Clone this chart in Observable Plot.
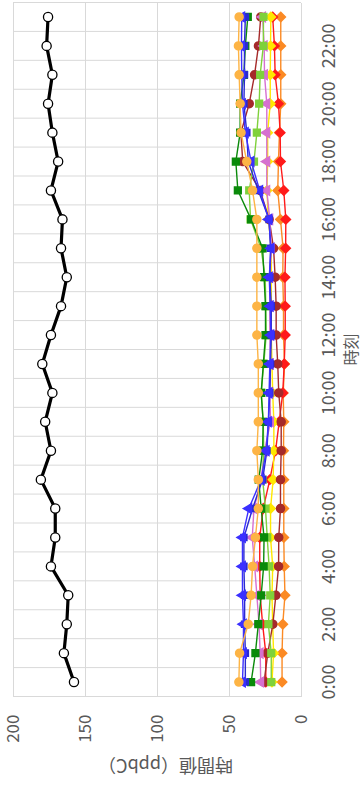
<!DOCTYPE html>
<html><head><meta charset="utf-8">
<script src="https://cdn.jsdelivr.net/npm/d3@7"></script>
<script src="https://cdn.jsdelivr.net/npm/@observablehq/plot@0.6"></script>
<style>
html,body{margin:0;padding:0;background:#fff;}
#wrap{position:relative;width:364px;height:786px;overflow:hidden;background:#fff;}
#rot{position:absolute;left:0;top:786px;width:786px;height:364px;transform-origin:0 0;transform:rotate(-90deg);}
</style></head><body>
<div id="wrap"><div id="rot"></div></div>
<script>
const hours = [0,1,2,3,4,5,6,7,8,9,10,11,12,13,14,15,16,17,18,19,20,21,22,23];
const hourTicks = [0,2,4,6,8,10,12,14,16,18,20,22];
const tickLabels = ["0:00","2:00","4:00","6:00","8:00","10:00","12:00","14:00","16:00","18:00","20:00","22:00"];
const valueTicks = [0,50,100,150,200];
const xTitle = "時刻";
const yTitle = "時間値（ppbC）";

const totalSeries = [158,165,163,162,174,171,171,181,174,178,173,180,174,167,163,167,166,174,169,173,176,173,177,176];
const lightOrange = [43.5,43,37,35,34,32,30,30,31,30,30,30,31,31,31,31,31,34,38,42,42.6,43.3,43.8,43.3];
const blueTri = [41,40.3,40.3,41,41,41,36.6,28,24.5,23,22.5,22,21.3,21.7,22.4,21.2,22.7,29,35,39,41,41.5,41.7,41.5];
const blueSq = [39,39,39.5,39.5,40,40,34,27,24,23,22,21.5,21,21,22,21.5,22.5,30,37,38,40,39.6,39.6,39];
const darkGreen = [35,32,30,28,26.3,26,28,29.7,27,26.6,28,26.5,25,25,26,27,35,44.2,45.6,42.6,42.6,40,39,37.3];
const lightGreen = [21,21,23,21.7,22.5,23.8,25,27,26.2,26.6,28,26.2,24.5,24.8,25.2,28.1,35.4,36.3,33,31,29.4,28.7,26.5,26.4];
const orchid = [28.3,28.7,29.5,31,32.5,34.2,33,28,25.7,21.5,22,21.5,22,22,22,21,22,24.1,24.1,24.1,24.1,25.7,25.9,27];
const yellow = [20.5,19.4,20,20.5,20,21.5,21.5,19.7,19.2,19.2,20,20.5,21,21,21,21,23,24,23.5,23.5,21.7,21.7,21.5,21.3];
const red = [24.8,24.8,27,28.7,29,29,26.6,22,18,15.5,13,12,11.3,11.3,11.5,11,10.9,12.3,14.6,14.8,16,18.3,18.8,20];
const darkOrange = [13.5,13.5,13,11.5,12,12.3,12.3,12.3,12.5,12.3,12.7,11.8,12.5,12.5,13,12.8,14.6,16.5,16,15.3,14.4,14.4,14.4,14.4];
const brown = [26,23.4,19.9,17.8,15.9,15.8,14.6,14.6,14.1,14.1,15.8,16.5,17.6,17.6,18.3,19.4,22.4,28.7,40.8,42.1,36.3,32.6,29.9,28.3];

const seriesDefs = [
  {values: darkOrange, color: "#fb8a24", symbol: "diamond2", r: 4.2},
  {values: red, color: "#ff1a1a", symbol: "diamond2", r: 4.2},
  {values: yellow, color: "#ffe800", symbol: "diamond2", r: 4.2},
  {values: brown, color: "#a52a2a", symbol: "circle", r: 4},
  {values: orchid, color: "#d670d0", symbol: "triangle", r: 3.5},
  {values: lightGreen, color: "#7fd13b", symbol: "square", r: 3.8},
  {values: darkGreen, color: "#0a8a0a", symbol: "square", r: 3.8},
  {values: blueSq, color: "#2a2ad0", symbol: "square", r: 3.4},
  {values: blueTri, color: "#3b30ff", symbol: "triangle", r: 3.5},
  {values: lightOrange, color: "#fdb445", symbol: "circle", r: 4}
];

const toRows = vals => hours.map((h, i) => ({hour: h, value: vals[i]}));
const boundaries = hours.map(h => h - 0.5).concat([hours[hours.length - 1] + 0.5]);

const marks = [
  Plot.ruleY(valueTicks, {stroke: "#d9d9d9", strokeWidth: 1}),
  Plot.ruleX(boundaries, {stroke: "#d9d9d9", strokeWidth: 1}),
  Plot.axisX(hourTicks, {tickSize: 0, tickPadding: 21, fontSize: 18, label: null, fill: "#595959",
    tickFormat: d => tickLabels[hourTicks.indexOf(d)]}),
  Plot.axisY(valueTicks, {tickSize: 0, tickPadding: 18, fontSize: 17, label: null, fill: "#595959"}),
  Plot.text([xTitle], {frameAnchor: "bottom", dy: 50, fontSize: 16, fill: "#595959", lineAnchor: "middle", textAnchor: "middle"}),
  Plot.text([yTitle], {frameAnchor: "left", dx: -68, dy: 8, rotate: -90, fontSize: 18, fill: "#595959", lineAnchor: "middle", textAnchor: "middle"})
];
for (const s of seriesDefs) {
  const rows = toRows(s.values);
  marks.push(Plot.lineY(rows, {x: "hour", y: "value", stroke: s.color, strokeWidth: 1.4}));
  marks.push(Plot.dot(rows, {x: "hour", y: "value", symbol: s.symbol, fill: s.color, stroke: s.color, r: s.r}));
}
const totalRows = toRows(totalSeries);
marks.push(Plot.lineY(totalRows, {x: "hour", y: "value", stroke: "#000", strokeWidth: 3.2}));
marks.push(Plot.dot(totalRows, {x: "hour", y: "value", fill: "#fff", stroke: "#000", strokeWidth: 1.3, r: 4.6}));

const chart = Plot.plot({
  width: 786, height: 364,
  marginLeft: 89, marginRight: 3, marginTop: 13, marginBottom: 63,
  x: {domain: [-0.5, 23.5]},
  y: {domain: [0, 200]},
  style: {fontFamily: "'Noto Sans CJK JP', 'Noto Sans', sans-serif", background: "#fff", overflow: "visible"},
  marks
});
document.getElementById("rot").appendChild(chart);
</script>
</body></html>
